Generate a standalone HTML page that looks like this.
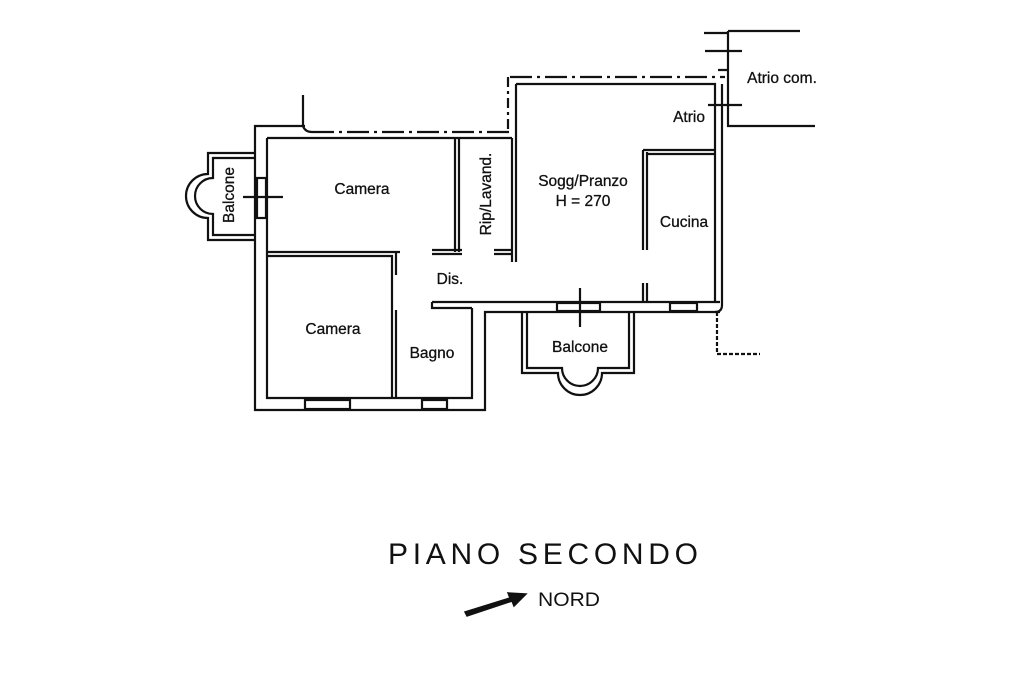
<!DOCTYPE html>
<html><head><meta charset="utf-8"><style>
html,body{margin:0;padding:0;background:#fff;width:1024px;height:682px;overflow:hidden}
svg{display:block}
text{font-family:"Liberation Sans",sans-serif;fill:#111}
</style></head><body>
<svg width="1024" height="682" viewBox="0 0 1024 682" xmlns="http://www.w3.org/2000/svg">
<g fill="none" stroke="#111" stroke-width="2.2">
<path d="M303 95 V126 M305 126 H255 V410 H485 V312 H720"/>
<path d="M303 126 Q305 132 312 132"/>
<path d="M312 132 H510" stroke-dasharray="22 5 3 5"/>
<path d="M267 138 H512 M267 138 V398 H472 V308"/>
<path d="M455 138 V252 M459 138 V252 M267 252 H400 M267 256 H392 V398 M396 310 V398 M392 256 V275 M396 252 V275"/>
<path d="M432 250 H462 M432 254 H462 M494 250 H512 M494 254 H512 M512 138 V262 M516 84 V262"/>
<path d="M432 302 H720 M432 302 V308 H472"/>
<path d="M508 77 V132" stroke-dasharray="10 4 3 4"/>
<path d="M510 77 H725" stroke-dasharray="22 5 3 5"/>
<path d="M516 84 H715 V302 M722 126 V305 Q722 312 715 312"/>
<path d="M643 150 V250 M647 152 V250 M643 150 H715 M647 154 H715 M643 283 V302 M647 283 V302"/>
<path d="M717 312 V354 H760" stroke-dasharray="4 2"/>
<path d="M722 84 V126"/>
<path d="M728 31 V126 H815 M728 31 H800 M704 33 H728 M705 51 H742 M718 70 H728 M708 105 H742"/>
<rect x="305" y="400" width="45" height="9"/>
<rect x="422" y="400" width="25" height="9"/>
<rect x="557" y="303" width="43" height="8"/>
<rect x="670" y="303" width="27" height="8"/>
<rect x="257" y="178" width="9" height="40"/>
<path d="M243 197 H283 M580 288 V327"/>
<path d="M255 153 H208 V174 A22 22 0 0 0 208 218 V240 H255"/>
<path d="M255 158 H213 V178 A18 18 0 0 0 213 214 V235 H255"/>
<path d="M522 312 V373 H558 A22 22 0 0 0 602 373 H634 V312"/>
<path d="M527 312 V368 H562 A18 18 0 0 0 598 368 H629 V312"/>
</g>
<g font-size="15.5" text-anchor="middle" stroke="#111" stroke-width="0.3">
<text x="362" y="194">Camera</text>
<text x="450" y="284">Dis.</text>
<text x="333" y="334">Camera</text>
<text x="432" y="358">Bagno</text>
<text x="583" y="186">Sogg/Pranzo</text>
<text x="583" y="206">H = 270</text>
<text x="684" y="227">Cucina</text>
<text x="689" y="122">Atrio</text>
<text x="782" y="83">Atrio com.</text>
<text x="580" y="352">Balcone</text>
<text transform="translate(491,194) rotate(-90)">Rip/Lavand.</text>
<text transform="translate(234,195) rotate(-90)">Balcone</text>
</g>
<text x="388" y="564" font-size="30" textLength="310" lengthAdjust="spacing">PIANO SECONDO</text>
<text x="538" y="606" font-size="19" textLength="62" lengthAdjust="spacingAndGlyphs">NORD</text>
<path d="M465 612 L510 598 L508 593 L526 594 L514 606 L512 601 L467 616 Z" fill="#111" stroke="#111" stroke-width="1.5"/>
</svg>
</body></html>
